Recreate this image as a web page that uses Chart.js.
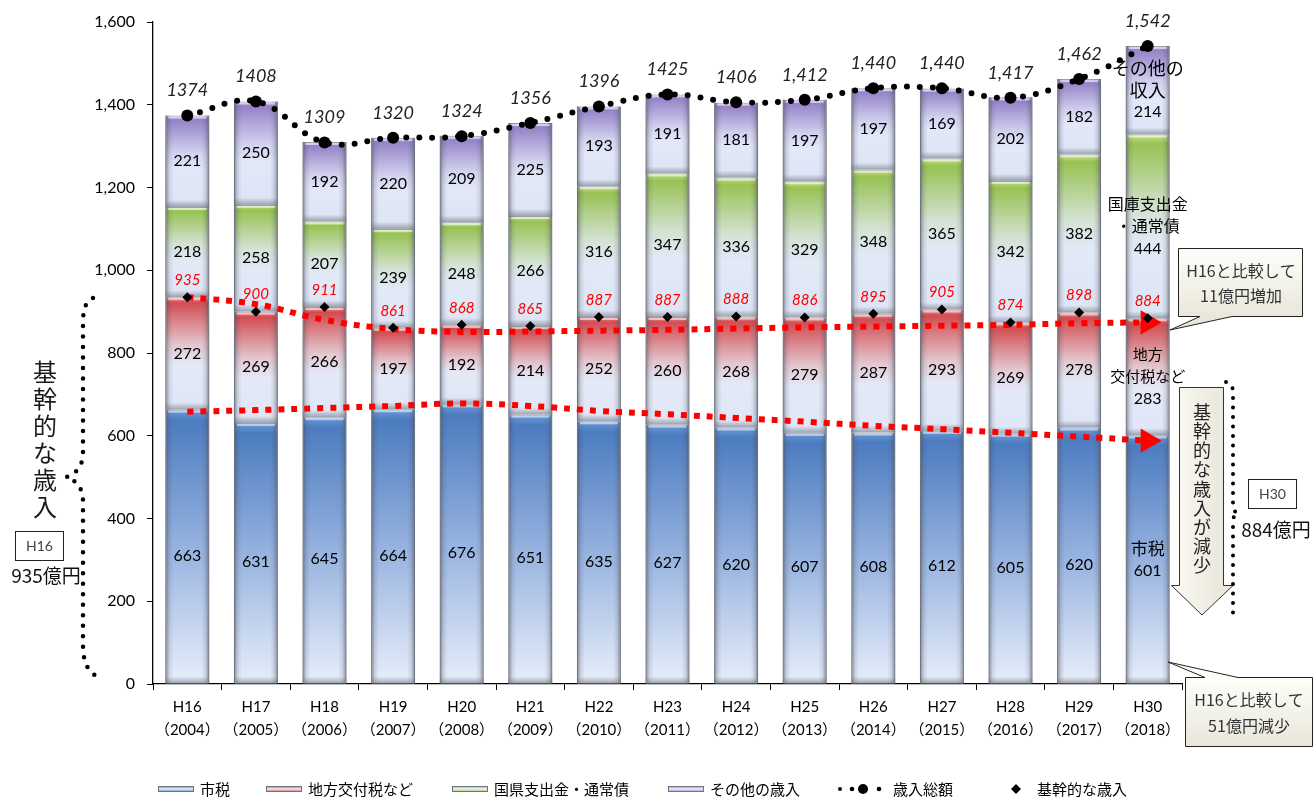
<!DOCTYPE html>
<html>
<head>
<meta charset="utf-8">
<script src="https://cdn.jsdelivr.net/npm/chart.js@4.4.1/dist/chart.umd.min.js"></script>
<style>
  html, body { margin: 0; padding: 0; background: #fff; }
  #wrap { position: relative; width: 1313px; height: 799px; }
</style>
</head>
<body>
<div id="wrap"><canvas id="revenue-chart" width="1313" height="799"></canvas></div>
<script>
// fiscal years (Heisei) and western years
const categories = ['H16', 'H17', 'H18', 'H19', 'H20', 'H21', 'H22', 'H23', 'H24', 'H25', 'H26', 'H27', 'H28', 'H29', 'H30'];
const westernYears = ['2004', '2005', '2006', '2007', '2008', '2009', '2010', '2011', '2012', '2013', '2014', '2015', '2016', '2017', '2018'];

// stacked segments (億円)
const cityTax = [663, 631, 645, 664, 676, 651, 635, 627, 620, 607, 608, 612, 605, 620, 601];
const localAllocTax = [272, 269, 266, 197, 192, 214, 252, 260, 268, 279, 287, 293, 269, 278, 283];
const subsidiesBonds = [218, 258, 207, 239, 248, 266, 316, 347, 336, 329, 348, 365, 342, 382, 444];
const otherRevenue = [221, 250, 192, 220, 209, 225, 193, 191, 181, 197, 197, 169, 202, 182, 214];

// totals and core revenue
const totalRevenue = [1374, 1408, 1309, 1320, 1324, 1356, 1396, 1425, 1406, 1412, 1440, 1440, 1417, 1462, 1542];
const totalLabels = ['1374', '1408', '1309', '1320', '1324', '1356', '1396', '1425', '1406', '1,412', '1,440', '1,440', '1,417', '1,462', '1,542'];
const coreRevenue = [935, 900, 911, 861, 868, 865, 887, 887, 888, 886, 895, 905, 874, 898, 884];

// red dotted trend guides
const coreTrend = [935, 918, 880, 858, 851, 852, 854, 856, 859, 862, 864, 866, 868, 872, 874];
const cityTaxTrend = [658, 662, 667, 672, 678, 672, 660, 652, 643, 634, 624, 616, 607, 598, 588];

const yMax = 1600;
const yStep = 200;

const seriesNames = ['市税', '地方交付税など', '国県支出金・通常債', 'その他の歳入'];
const lastBarNotes = [['市税'], ['地方', '交付税など'], ['国庫支出金', '・通常債'], ['その他の', '収入']];
const lastBarNoteSizes = [17, 15, 16, 18];

const stackSeries = [cityTax, localAllocTax, subsidiesBonds, otherRevenue];

const NUM_FONT = "Lato, 'Noto Sans CJK JP', sans-serif";
const JP_FONT = "'Noto Sans CJK JP', 'Noto Sans', sans-serif";

const palettes = [
  [[0, '#6d9ad8'], [0.04, '#4c7cc0'], [0.5, '#96b2df'], [1, '#e8eefa']],
  [[0, '#f08a8c'], [0.05, '#d24d52'], [0.42, '#e3c6ce'], [0.6, '#e4e9f7'], [1, '#dfe6f6']],
  [[0, '#c8e390'], [0.05, '#98c253'], [0.42, '#d5e3d6'], [0.6, '#e2e9f7'], [1, '#dde5f5']],
  [[0, '#bba8e2'], [0.05, '#9583c8'], [0.42, '#d3d3ef'], [0.6, '#e2e8f8'], [1, '#dde4f5']]
];

function segmentFill(seriesIndex) {
  const stops = palettes[seriesIndex];
  return (c) => {
    const chart = c.chart;
    if (c.type !== 'data' || !chart.chartArea) return stops[1][1];
    const yScale = chart.scales.y;
    let base = 0;
    for (let k = 0; k < seriesIndex; k++) base += stackSeries[k][c.dataIndex];
    const top = base + stackSeries[seriesIndex][c.dataIndex];
    const g = chart.ctx.createLinearGradient(0, yScale.getPixelForValue(top), 0, yScale.getPixelForValue(base));
    stops.forEach(([o, col]) => g.addColorStop(o, col));
    return g;
  };
}

function barDataset(i) {
  return {
    type: 'bar',
    label: seriesNames[i],
    data: stackSeries[i],
    backgroundColor: segmentFill(i),
    borderColor: '#9a9ea8',
    borderWidth: 1,
    stack: 'revenue',
    order: 3,
    barPercentage: 0.64,
    categoryPercentage: 1
  };
}

// bevel look on each bar segment
const bevelPlugin = {
  id: 'bevel',
  afterDatasetDraw(chart, args) {
    if (args.meta.type !== 'bar') return;
    const ctx = chart.ctx;
    args.meta.data.forEach(el => {
      const p = el.getProps(['x', 'y', 'base', 'width'], true);
      const l = p.x - p.width / 2, r = p.x + p.width / 2;
      const t = Math.min(p.y, p.base), b = Math.max(p.y, p.base);
      ctx.save();
      const hg = ctx.createLinearGradient(l, 0, r, 0);
      hg.addColorStop(0, 'rgba(70,75,90,0.6)');
      hg.addColorStop(0.09, 'rgba(70,75,90,0.14)');
      hg.addColorStop(0.18, 'rgba(70,75,90,0)');
      hg.addColorStop(0.82, 'rgba(70,75,90,0)');
      hg.addColorStop(0.91, 'rgba(70,75,90,0.14)');
      hg.addColorStop(1, 'rgba(70,75,90,0.6)');
      ctx.fillStyle = hg;
      ctx.fillRect(l, t, r - l, b - t);
      ctx.fillStyle = 'rgba(255,255,255,0.55)';
      ctx.fillRect(l + 3, t + 1, r - l - 6, 2);
      const bg = ctx.createLinearGradient(0, b - 7, 0, b);
      bg.addColorStop(0, 'rgba(110,115,125,0)');
      bg.addColorStop(1, 'rgba(110,115,125,0.6)');
      ctx.fillStyle = bg;
      ctx.fillRect(l, b - 7, r - l, 7);
      ctx.restore();
    });
  }
};

function dotted(ctx, gap, size, draw) {
  ctx.save();
  ctx.setLineDash([0, gap]);
  ctx.lineCap = 'round';
  ctx.lineWidth = size;
  ctx.strokeStyle = '#000';
  ctx.beginPath();
  draw();
  ctx.stroke();
  ctx.restore();
}

function verticalText(ctx, text, x, y0, step, font, color) {
  ctx.save();
  ctx.font = font;
  ctx.fillStyle = color;
  ctx.textAlign = 'center';
  ctx.textBaseline = 'middle';
  [...text].forEach((ch, i) => ctx.fillText(ch, x, y0 + i * step));
  ctx.restore();
}

function calloutFill(ctx, y0, y1) {
  const g = ctx.createLinearGradient(0, y0, 0, y1);
  g.addColorStop(0, '#fefefa');
  g.addColorStop(1, '#e9e7da');
  return g;
}

const labelPlugin = {
  id: 'labels',
  afterDatasetsDraw(chart) {
    const ctx = chart.ctx;
    ctx.save();
    ctx.textAlign = 'center';
    ctx.textBaseline = 'middle';
    // segment values
    for (let i = 0; i < 4; i++) {
      const meta = chart.getDatasetMeta(i);
      meta.data.forEach((el, j) => {
        const p = el.getProps(['x', 'y', 'base'], true);
        const cy = (p.y + p.base) / 2;
        ctx.fillStyle = '#000';
        if (j === categories.length - 1) {
          const lines = lastBarNotes[i].concat([String(stackSeries[i][j])]);
          lines.forEach((txt, k) => {
            const ly = cy + (k - (lines.length - 1) / 2) * 22;
            const isNum = k === lines.length - 1;
            ctx.font = isNum ? `16px ${NUM_FONT}` : `${lastBarNoteSizes[i]}px ${JP_FONT}`;
            ctx.fillText(txt, p.x, ly);
          });
        } else {
          ctx.font = `16px ${NUM_FONT}`;
          // city tax labels sit a little low in the source
          ctx.fillText(String(stackSeries[i][j]), p.x, cy + (i === 0 ? 9 : 0));
        }
      });
    }
    // core revenue labels
    const coreMeta = chart.getDatasetMeta(5);
    ctx.font = `italic 15px ${NUM_FONT}`;
    ctx.fillStyle = '#ff0000';
    coreMeta.data.forEach((pt, j) => ctx.fillText(String(coreRevenue[j]), pt.x, pt.y - 17));
    // total labels
    const totalMeta = chart.getDatasetMeta(4);
    ctx.font = `italic 18px ${NUM_FONT}`;
    ctx.fillStyle = '#222';
    totalMeta.data.forEach((pt, j) => ctx.fillText(totalLabels[j], pt.x, pt.y - 25));
    ctx.restore();
  },
  afterDraw(chart) {
    const ctx = chart.ctx;
    ctx.save();

    // left brace
    dotted(ctx, 10.5, 4.5, () => {
      ctx.moveTo(93, 298);
      ctx.quadraticCurveTo(83, 302, 83, 322);
      ctx.lineTo(83, 452);
      ctx.quadraticCurveTo(83, 472, 66, 477);
      ctx.quadraticCurveTo(83, 482, 83, 502);
      ctx.lineTo(83, 645);
      ctx.quadraticCurveTo(83, 674, 102, 678);
    });
    verticalText(ctx, '基幹的な歳入', 45, 372, 27, `24px ${JP_FONT}`, '#1a1a1a');

    // H16 box
    ctx.strokeStyle = '#222';
    ctx.lineWidth = 1;
    ctx.fillStyle = '#fff';
    ctx.fillRect(15.5, 531.5, 48, 29);
    ctx.strokeRect(15.5, 531.5, 48, 29);
    ctx.fillStyle = '#444';
    ctx.font = `14px ${NUM_FONT}`;
    ctx.textAlign = 'center';
    ctx.textBaseline = 'middle';
    ctx.fillText('H16', 39.5, 546);
    ctx.fillStyle = '#111';
    ctx.font = `19px ${JP_FONT}`;
    ctx.fillText('935億円', 46, 576);

    // upper callout
    ctx.beginPath();
    ctx.moveTo(1178.5, 248.5);
    ctx.lineTo(1302.5, 248.5);
    ctx.lineTo(1302.5, 316.5);
    ctx.lineTo(1232, 316.5);
    ctx.lineTo(1170, 330);
    ctx.lineTo(1200, 316.5);
    ctx.lineTo(1178.5, 316.5);
    ctx.closePath();
    ctx.fillStyle = calloutFill(ctx, 248, 317);
    ctx.fill();
    ctx.strokeStyle = '#222';
    ctx.stroke();
    ctx.fillStyle = '#333';
    ctx.font = `16px ${JP_FONT}`;
    ctx.fillText('H16と比較して', 1241, 271);
    ctx.fillText('11億円増加', 1241, 296);

    // lower callout
    ctx.beginPath();
    ctx.moveTo(1185.5, 677.5);
    ctx.lineTo(1205, 677.5);
    ctx.lineTo(1168, 662);
    ctx.lineTo(1238, 677.5);
    ctx.lineTo(1312.5, 677.5);
    ctx.lineTo(1312.5, 746.5);
    ctx.lineTo(1185.5, 746.5);
    ctx.closePath();
    ctx.fillStyle = calloutFill(ctx, 677, 747);
    ctx.fill();
    ctx.strokeStyle = '#222';
    ctx.stroke();
    ctx.fillStyle = '#333';
    ctx.fillText('H16と比較して', 1249, 700);
    ctx.fillText('51億円減少', 1249, 726);

    // hollow down arrow
    ctx.beginPath();
    ctx.moveTo(1179.5, 387.5);
    ctx.lineTo(1223.5, 387.5);
    ctx.lineTo(1223.5, 585.5);
    ctx.lineTo(1233, 585.5);
    ctx.lineTo(1202, 615);
    ctx.lineTo(1171.5, 585.5);
    ctx.lineTo(1179.5, 585.5);
    ctx.closePath();
    const ag = ctx.createLinearGradient(1172, 0, 1233, 0);
    ag.addColorStop(0, '#fbfaf4');
    ag.addColorStop(1, '#e6e4d6');
    ctx.fillStyle = ag;
    ctx.fill();
    ctx.strokeStyle = '#333';
    ctx.stroke();
    verticalText(ctx, '基幹的な歳入が減少', 1202, 412, 19.2, `18px ${JP_FONT}`, '#222');

    // right dotted bracket
    dotted(ctx, 9.5, 4, () => {
      ctx.moveTo(1226, 382);
      ctx.quadraticCurveTo(1233, 384, 1233, 392);
      ctx.lineTo(1233, 505);
      ctx.quadraticCurveTo(1233, 512, 1238, 513);
      ctx.quadraticCurveTo(1233, 515, 1233, 522);
      ctx.lineTo(1233, 612);
      ctx.quadraticCurveTo(1233, 620, 1230, 621);
    });

    // H30 box
    ctx.fillStyle = '#fff';
    ctx.fillRect(1248.5, 479.5, 48, 29);
    ctx.strokeStyle = '#222';
    ctx.strokeRect(1248.5, 479.5, 48, 29);
    ctx.fillStyle = '#444';
    ctx.font = `14px ${NUM_FONT}`;
    ctx.fillText('H30', 1272.5, 494);
    ctx.fillStyle = '#111';
    ctx.font = `19px ${JP_FONT}`;
    ctx.fillText('884億円', 1276, 530);

    // legend
    const ly = 789;
    const boxes = [158, 266, 452, 668];
    ctx.textAlign = 'left';
    ctx.font = `15px ${JP_FONT}`;
    boxes.forEach((bx, i) => {
      const g = ctx.createLinearGradient(0, ly - 3, 0, ly + 3);
      g.addColorStop(0, palettes[i][1][1]);
      g.addColorStop(0.5, '#eef2fb');
      g.addColorStop(1, palettes[i][1][1]);
      ctx.fillStyle = g;
      ctx.fillRect(bx, ly - 3, 36, 6);
      ctx.strokeStyle = '#6f7480';
      ctx.lineWidth = 1;
      ctx.strokeRect(bx + 0.5, ly - 2.5, 35, 5);
      ctx.fillStyle = '#000';
      ctx.fillText(seriesNames[i], bx + 42, ly);
    });
    ctx.fillStyle = '#000';
    [[840, 2], [852, 2.3], [863, 5], [879, 2.3]].forEach(([dx, r]) => {
      ctx.beginPath();
      ctx.arc(dx, ly, r, 0, Math.PI * 2);
      ctx.fill();
    });
    ctx.fillText('歳入総額', 893, ly);
    ctx.beginPath();
    ctx.moveTo(1016, ly - 5);
    ctx.lineTo(1021, ly);
    ctx.lineTo(1016, ly + 5);
    ctx.lineTo(1011, ly);
    ctx.closePath();
    ctx.fill();
    ctx.fillText('基幹的な歳入', 1037, ly);

    ctx.restore();
  }
};

const lastIdx = categories.length - 1;

new Chart(document.getElementById('revenue-chart'), {
  type: 'bar',
  data: {
    labels: categories.map((c, i) => [c, '（' + westernYears[i] + '）']),
    datasets: [
      barDataset(0),
      barDataset(1),
      barDataset(2),
      barDataset(3),
      {
        type: 'line',
        label: '歳入総額',
        data: totalRevenue,
        stack: 'total',
        order: 1,
        borderColor: '#000',
        borderWidth: 6,
        borderDash: [0, 13],
        borderCapStyle: 'round',
        tension: 0.4,
        pointRadius: 6,
        pointBackgroundColor: '#000',
        pointBorderWidth: 0,
        fill: false
      },
      {
        type: 'line',
        label: '基幹的な歳入',
        data: coreRevenue,
        stack: 'core',
        order: 0,
        showLine: false,
        pointStyle: 'rectRot',
        pointRadius: 5,
        pointBackgroundColor: '#000',
        pointBorderColor: '#000',
        pointBorderWidth: 0
      },
      {
        type: 'line',
        label: 'core trend',
        data: coreTrend,
        stack: 'trendCore',
        order: 2,
        borderColor: '#ff0000',
        borderWidth: 6,
        borderDash: [6, 7],
        tension: 0.4,
        pointStyle: 'triangle',
        rotation: 90,
        pointRadius: c => c.dataIndex === lastIdx ? 14 : 0,
        pointBackgroundColor: '#ff0000',
        pointBorderWidth: 0,
        fill: false
      },
      {
        type: 'line',
        label: 'city tax trend',
        data: cityTaxTrend,
        stack: 'trendTax',
        order: 2,
        borderColor: '#ff0000',
        borderWidth: 6,
        borderDash: [6, 7],
        tension: 0.4,
        pointStyle: 'triangle',
        rotation: 90,
        pointRadius: c => c.dataIndex === lastIdx ? 14 : 0,
        pointBackgroundColor: '#ff0000',
        pointBorderWidth: 0,
        fill: false
      }
    ]
  },
  options: {
    responsive: false,
    animation: false,
    layout: { padding: { left: 0, right: 131, top: 22, bottom: 0 } },
    plugins: {
      legend: { display: false },
      tooltip: { enabled: false }
    },
    scales: {
      x: {
        stacked: true,
        offset: true,
        grid: { offset: true, drawOnChartArea: false, tickLength: 6, color: '#000' },
        border: { color: '#000', width: 1.3 },
        ticks: { color: '#000', font: { family: NUM_FONT, size: 15, lineHeight: 1.5 }, padding: 6, maxRotation: 0 },
        afterFit: s => { s.height = 115; }
      },
      y: {
        stacked: true,
        min: 0,
        max: yMax,
        grid: { drawOnChartArea: false, tickLength: 6, color: '#000' },
        border: { color: '#000', width: 1.3 },
        ticks: {
          stepSize: yStep,
          color: '#000',
          padding: 12,
          font: { family: NUM_FONT, size: 16 },
          callback: v => v.toLocaleString('en-US')
        },
        afterFit: s => { s.width = 153; }
      }
    }
  },
  plugins: [bevelPlugin, labelPlugin]
});
</script>
</body>
</html>
